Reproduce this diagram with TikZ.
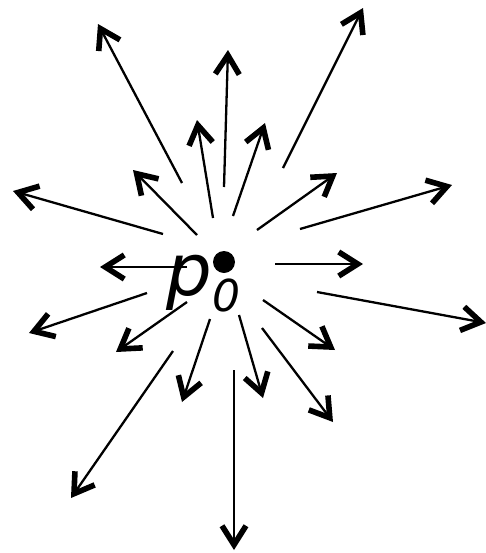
\documentclass[tikz,border=0pt]{standalone}
\usepackage{fontspec}
\setmainfont{DejaVu Sans}
\usetikzlibrary{arrows.meta}

\begin{document}
\begin{tikzpicture}[
        x=0.5pt,
        y=-0.5pt,
        field/.style={-{Straight Barb[length=9.5pt,width=12pt,line width=2.8pt]}, line width=1.15pt},
        dot/.style={circle, fill=black, inner sep=0pt, minimum size=11pt}
    ]
    \useasboundingbox (0,0) rectangle (486,553);

    \node[dot] (pzero) at (224,262) {};

    % vectors around p0: tail x/y, tip x/y (in pixels)
    \foreach \sx/\sy/\ex/\ey [count=\n] in {
        182/183/98/24, 213/218/197/120, 224/187/228/50, 233/216/265/123,
        283/168/363/8, 197/235/133/170, 163/234/13/191, 257/230/337/173,
        300/229/452/185, 187/267/100/267, 275/264/363/264, 147/293/29/333,
        187/302/116/352, 173/351/71/498, 210/319/182/402, 234/370/234/550,
        239/315/263/398, 263/300/335/350, 262/328/333/422, 317/292/486/323}
    {
        \coordinate (tail\n) at (\sx,\sy);
        \coordinate (tip\n) at (\ex,\ey);
        \draw[field] (tail\n) -- (tip\n);
    }

    \node[font=\fontsize{36pt}{36pt}\selectfont\itshape, anchor=base west, inner sep=0pt]
        (plabel) at (166,295) {p\raisebox{-8pt}{\fontsize{22pt}{22pt}\selectfont 0}};
\end{tikzpicture}
\end{document}
